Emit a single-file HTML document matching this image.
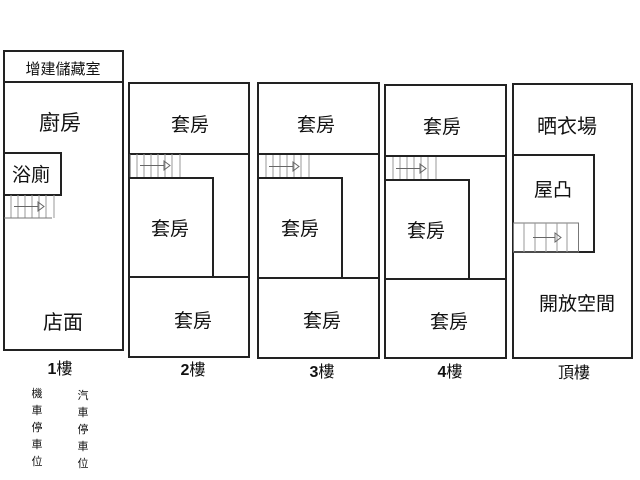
<!DOCTYPE html>
<html><head><meta charset="utf-8"><style>
html,body{margin:0;padding:0;background:#fff;}
svg{display:block;}
text{font-family:"Liberation Sans","Noto Sans CJK TC",sans-serif;fill:#111;}
.w{fill:none;stroke:#222;stroke-width:2;}
.s{stroke:#999;stroke-width:1;}
.a{stroke:#666;stroke-width:1;fill:none;}
</style></head><body>
<svg width="640" height="480" viewBox="0 0 640 480" xmlns="http://www.w3.org/2000/svg">
<defs>
<g id="st">
<!-- stair unit: width 50, height 23 -->
<line class="s" x1="7" y1="0" x2="7" y2="23"/>
<line class="s" x1="14" y1="0" x2="14" y2="23"/>
<line class="s" x1="21" y1="0" x2="21" y2="23"/>
<line class="s" x1="28" y1="0" x2="28" y2="23"/>
<line class="s" x1="35" y1="0" x2="35" y2="23"/>
<line class="s" x1="42" y1="0" x2="42" y2="23"/>
<line class="s" x1="50" y1="0" x2="50" y2="23"/>
<line class="a" x1="10" y1="11.5" x2="34" y2="11.5"/>
<path class="a" d="M34 7 L40 11.5 L34 16 Z"/>
</g>
</defs>

<!-- 1F -->
<rect class="w" x="4" y="51" width="119" height="31"/>
<rect class="w" x="4" y="82" width="119" height="268"/>
<rect class="w" x="4" y="153" width="57" height="42"/>
<use href="#st" x="4" y="195"/>
<line stroke="#777" x1="4" y1="218" x2="52" y2="218"/>
<text x="63" y="74" font-size="15" text-anchor="middle">增建儲藏室</text>
<text x="60" y="130" font-size="21" text-anchor="middle">廚房</text>
<text x="31" y="181" font-size="19" text-anchor="middle">浴廁</text>
<text x="63" y="329" font-size="20" text-anchor="middle">店面</text>
<text x="60" y="374" font-size="16" text-anchor="middle"><tspan font-weight="bold">1</tspan>樓</text>
<g font-size="11" text-anchor="middle">
<text x="37" y="397">機</text><text x="37" y="414">車</text><text x="37" y="431">停</text><text x="37" y="448">車</text><text x="37" y="465">位</text>
<text x="83" y="399">汽</text><text x="83" y="416">車</text><text x="83" y="433">停</text><text x="83" y="450">車</text><text x="83" y="467">位</text>
</g>

<!-- 2F -->
<rect class="w" x="129" y="83" width="120" height="274"/>
<line class="w" x1="129" y1="154" x2="249" y2="154"/>
<use href="#st" x="130" y="154"/>
<line stroke="#555" x1="130" y1="154" x2="130" y2="177"/>
<rect class="w" x="129" y="178" width="84" height="99"/>
<line class="w" x1="129" y1="277" x2="249" y2="277"/>
<text x="190" y="131" font-size="19" text-anchor="middle">套房</text>
<text x="170" y="235" font-size="19" text-anchor="middle">套房</text>
<text x="193" y="327" font-size="19" text-anchor="middle">套房</text>
<text x="193" y="375" font-size="16" text-anchor="middle"><tspan font-weight="bold">2</tspan>樓</text>

<!-- 3F -->
<rect class="w" x="258" y="83" width="121" height="275"/>
<line class="w" x1="258" y1="154" x2="379" y2="154"/>
<use href="#st" x="259" y="155"/>
<rect class="w" x="258" y="178" width="84" height="100"/>
<line class="w" x1="258" y1="278" x2="379" y2="278"/>
<text x="316" y="131" font-size="19" text-anchor="middle">套房</text>
<text x="300" y="235" font-size="19" text-anchor="middle">套房</text>
<text x="322" y="327" font-size="19" text-anchor="middle">套房</text>
<text x="322" y="377" font-size="16" text-anchor="middle"><tspan font-weight="bold">3</tspan>樓</text>

<!-- 4F -->
<rect class="w" x="385" y="85" width="121" height="273"/>
<line class="w" x1="385" y1="156" x2="506" y2="156"/>
<use href="#st" x="386" y="157"/>
<rect class="w" x="385" y="180" width="84" height="99"/>
<line class="w" x1="385" y1="279" x2="506" y2="279"/>
<text x="442" y="133" font-size="19" text-anchor="middle">套房</text>
<text x="426" y="237" font-size="19" text-anchor="middle">套房</text>
<text x="449" y="328" font-size="19" text-anchor="middle">套房</text>
<text x="450" y="377" font-size="16" text-anchor="middle"><tspan font-weight="bold">4</tspan>樓</text>

<!-- Roof -->
<rect class="w" x="513" y="84" width="119" height="274"/>
<rect class="w" x="513" y="155" width="81" height="97"/>
<rect fill="none" stroke="#777" x="513.5" y="223" width="65" height="29"/>
<g>
<line class="s" x1="524" y1="223" x2="524" y2="252"/>
<line class="s" x1="535" y1="223" x2="535" y2="252"/>
<line class="s" x1="546" y1="223" x2="546" y2="252"/>
<line class="s" x1="557" y1="223" x2="557" y2="252"/>
<line class="s" x1="567" y1="223" x2="567" y2="252"/>
<line class="a" x1="533" y1="237.5" x2="555" y2="237.5"/>
<path class="a" d="M555 233 L561 237.5 L555 242 Z"/>
</g>
<text x="567" y="133" font-size="20" text-anchor="middle">晒衣場</text>
<text x="553" y="196" font-size="19" text-anchor="middle">屋凸</text>
<text x="577" y="310" font-size="19" text-anchor="middle">開放空間</text>
<text x="574" y="378" font-size="16" text-anchor="middle">頂樓</text>
</svg>
</body></html>
